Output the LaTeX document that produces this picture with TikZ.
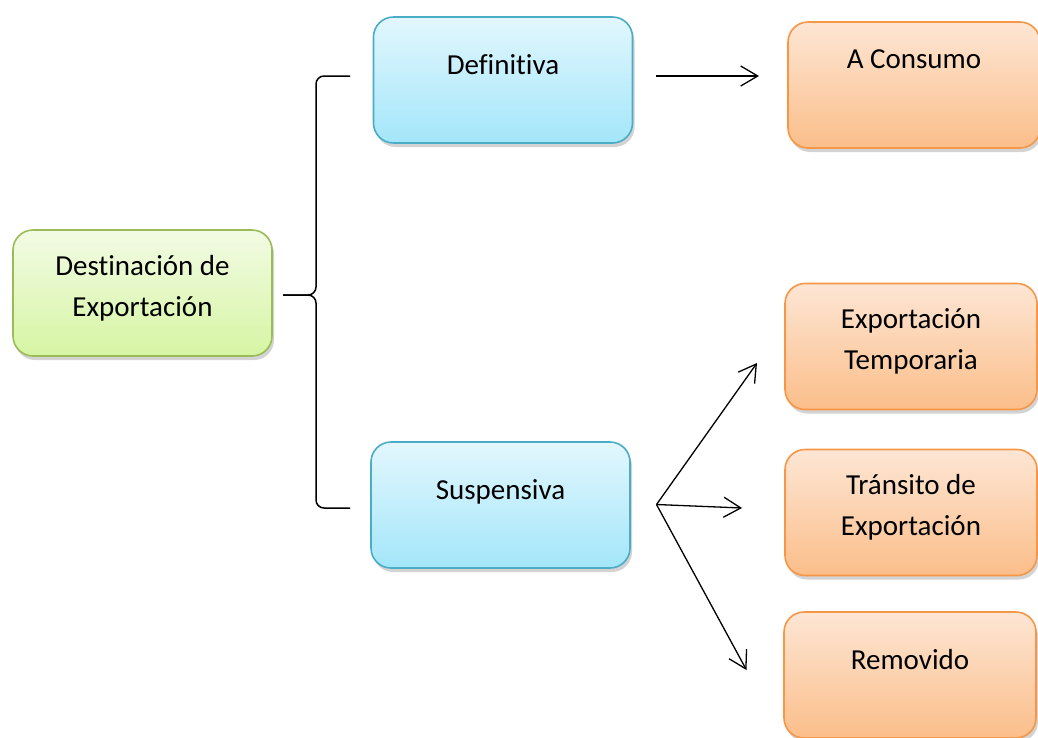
\documentclass[tikz,border=0pt]{standalone}
\usepackage{fontspec}
\setmainfont{Carlito}[Ligatures=NoCommon]
\usepackage{xcolor}
\usetikzlibrary{positioning, arrows.meta, shadows, shapes}

\definecolor{bordeVerde}{HTML}{9BBB59}
\definecolor{verdeArr}{HTML}{F2FBE4}
\definecolor{verdeAb}{HTML}{D6F5A3}
\definecolor{bordeAzul}{HTML}{4BACC6}
\definecolor{azulArr}{HTML}{E2F7FD}
\definecolor{azulAb}{HTML}{A3E6FA}
\definecolor{bordeNaranja}{HTML}{F79646}
\definecolor{naranjaArr}{HTML}{FDE6D4}
\definecolor{naranjaAb}{HTML}{FBBE8A}

\begin{document}
\begin{tikzpicture}[x=1pt, y=-1pt,
	caja/.style={rectangle, rounded corners=20pt, line width=1.6pt, minimum width=259pt, minimum height=126pt, inner sep=0pt, align=center, text height=20pt, text depth=32pt, font=\fontsize{29}{41}\selectfont, drop shadow={shadow xshift=2pt, shadow yshift=-4pt, opacity=0.35}},
	verde/.style={caja, draw=bordeVerde, top color=verdeArr, bottom color=verdeAb},
	azul/.style={caja, draw=bordeAzul, top color=azulArr, bottom color=azulAb},
	naranja/.style={caja, minimum width=252pt, draw=bordeNaranja, top color=naranjaArr, bottom color=naranjaAb},
	dos/.style={text height=61pt, text depth=15pt},
	flecha/.style={line width=1.3pt, -{Straight Barb[length=17pt,width=20pt]}},
	llave/.style={line width=1.5pt, rounded corners=8pt}]
		\useasboundingbox (0,0) rectangle (1038,737);
		
		\node[verde, dos] (dest) at (142.5,293) {Destinación de\\Exportación};
		\node[azul] (defi) at (503,80) {Definitiva};
		\node[azul] (susp) at (500.5,505) {Suspensiva};
		\node[naranja, text depth=54pt] (cons) at (914,85) {A Consumo};
		\node[naranja, dos] (temp) at (911,346.5) {Exportación\\Temporaria};
		\node[naranja, dos] (tran) at (911,512.5) {Tránsito de\\Exportación};
		\node[naranja] (remo) at (910,675) {Removido};
		
		% llave
		\coordinate (llaveArr) at (350,76);
		\coordinate (llaveAb) at (350,508);
		\coordinate (codo) at (316,295);
		\coordinate (punta) at (283,295);
		\draw[llave] (llaveArr) -| (codo) -- (punta);
		\draw[llave] (llaveAb) -| (codo) -- (punta);
		
		% flechas
		\coordinate (defiSal) at (656,76);
		\coordinate (consEnt) at (759,76);
		\coordinate (abanico) at (656.5,504.5);
		\coordinate (tempEnt) at (757,363);
		\coordinate (tranEnt) at (742,508);
		\coordinate (remoEnt) at (746.5,670);
		\draw[flecha] (defiSal) -- (consEnt);
		\draw[flecha] (abanico) -- (tempEnt);
		\draw[flecha] (abanico) -- (tranEnt);
		\draw[flecha] (abanico) -- (remoEnt);
		
\end{tikzpicture}
\end{document}
